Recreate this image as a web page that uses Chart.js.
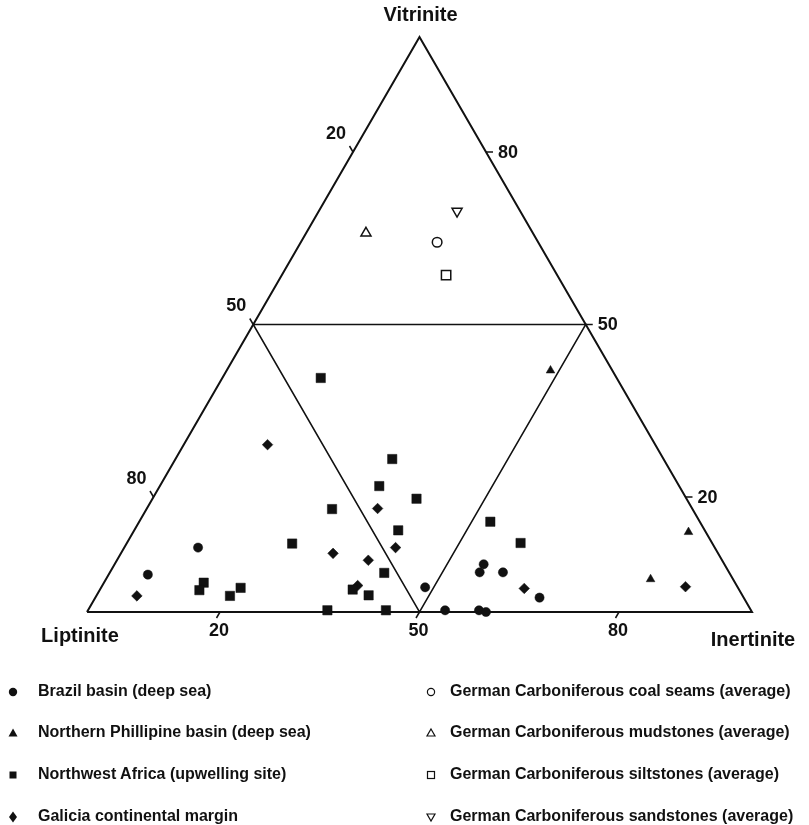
<!DOCTYPE html>
<html>
<head>
<meta charset="utf-8">
<script src="https://cdn.jsdelivr.net/npm/chart.js@4.4.1/dist/chart.umd.min.js"></script>
<style>
html,body{margin:0;padding:0;background:#fff;}
#wrap{position:relative;width:809px;height:825px;overflow:hidden;background:#fff;}
#c{position:absolute;left:0;top:0;}
.leg{position:absolute;height:20px;line-height:20px;font:bold 16px "Liberation Sans",Arial,Helvetica,sans-serif;color:#111;white-space:nowrap;}
.mk{position:absolute;}
</style>
</head>
<body>
<div id="wrap">
<canvas id="c" width="809" height="825"></canvas>
<div id="legend"></div>
</div>
<script>
// ---- Data (ternary compositions, %): Vitrinite, Inertinite, Liptinite ----
const brazilV = [11.2, 6.5, 4.3, 0.3, 8.3, 6.9, 6.9, 2.5, 0.3, 0.0];
const brazilI = [11.1, 5.9, 48.7, 53.7, 55.5, 55.6, 59.1, 66.8, 58.8, 60.0];
const brazilL = [77.7, 87.6, 47.0, 46.0, 36.2, 37.5, 34.0, 30.7, 40.9, 40.0];

const philV = [42.0, 13.9, 5.7];
const philI = [48.7, 83.5, 81.9];
const philL = [9.3, 2.6, 12.4];

const nwAfricaV = [5.1, 3.8, 4.2, 2.8, 11.9, 40.7, 17.9, 21.9, 26.6, 19.7, 14.2, 6.8, 3.9, 2.9, 0.3, 0.3, 15.7, 12.0];
const nwAfricaI = [15.0, 15.0, 21.0, 20.1, 24.9, 14.8, 27.9, 33.0, 32.6, 39.7, 39.7, 41.3, 38.0, 40.9, 36.0, 44.8, 52.8, 59.2];
const nwAfricaL = [79.9, 81.2, 74.8, 77.1, 63.2, 44.5, 54.2, 45.1, 40.8, 40.6, 46.1, 51.9, 58.1, 56.2, 63.7, 54.9, 31.5, 28.8];

const galiciaV = [29.1, 2.8, 18.0, 11.2, 10.2, 9.0, 4.6, 4.1, 4.4];
const galiciaI = [12.6, 6.1, 34.7, 40.8, 31.9, 37.8, 38.4, 63.7, 87.8];
const galiciaL = [58.3, 91.1, 47.3, 48.0, 57.9, 53.2, 57.0, 32.2, 7.8];

const coalV = [64.3], coalI = [20.5], coalL = [15.2];
const mudV = [65.9], mudI = [9.0], mudL = [25.1];
const siltV = [58.6], siltI = [24.7], siltL = [16.7];
const sandV = [69.7], sandI = [20.8], sandL = [9.5];

// frame of the diagram (ternary vertices) and the 50 % sub-triangle
const frameV = [0, 0, 100, 0];
const frameI = [0, 100, 0, 0];
const frameL = [100, 0, 0, 100];
const innerV = [50, 50, 0, 50];
const innerI = [0, 50, 50, 0];
const innerL = [50, 0, 50, 50];

const tickValues = [20, 50, 80];
const tickLabels = ['20', '50', '80'];
const axisNames = ['Vitrinite', 'Liptinite', 'Inertinite'];

const seriesNames = [
  'Brazil basin (deep sea)',
  'Northern Phillipine basin (deep sea)',
  'Northwest Africa (upwelling site)',
  'Galicia continental margin',
  'German Carboniferous coal seams (average)',
  'German Carboniferous mudstones (average)',
  'German Carboniferous siltstones (average)',
  'German Carboniferous sandstones (average)'
];

// ---- ternary -> cartesian ----
const H = Math.sqrt(3) / 2;
function toXY(V, I, L) {
  return V.map((v, k) => {
    const t = v + I[k] + L[k];
    const vv = 100 * v / t, ii = 100 * I[k] / t;
    return { x: ii + vv / 2, y: vv * H };
  });
}

const INK = '#111';
function pts(label, V, I, L, style, radius, filled, rotation) {
  return {
    label: label,
    data: toXY(V, I, L),
    pointStyle: style,
    pointRadius: radius,
    pointRotation: rotation || 0,
    pointBackgroundColor: filled ? INK : 'rgba(0,0,0,0)',
    pointBorderColor: INK,
    pointBorderWidth: filled ? 0.5 : 1.5,
    showLine: false,
    clip: false,
    order: 1
  };
}
function lines(V, I, L, w) {
  return {
    label: '',
    data: toXY(V, I, L),
    showLine: true,
    borderColor: INK,
    borderWidth: w,
    pointRadius: 0,
    fill: false,
    clip: false,
    order: 2
  };
}

const ternaryText = {
  id: 'ternaryText',
  afterDatasetsDraw(chart) {
    const { ctx } = chart;
    const xs = chart.scales.x, ys = chart.scales.y;
    const P = (V, I) => [xs.getPixelForValue(I + V / 2), ys.getPixelForValue(V * H)];
    ctx.save();
    ctx.strokeStyle = INK;
    ctx.fillStyle = INK;
    ctx.lineWidth = 1.5;
    ctx.font = 'bold 18px "Liberation Sans", Arial, Helvetica, sans-serif';
    ctx.textBaseline = 'middle';
    tickValues.forEach((t, k) => {
      // left edge: Liptinite value
      let [px, py] = P(100 - t, 0);
      ctx.beginPath(); ctx.moveTo(px, py); ctx.lineTo(px - 3.5, py - 6); ctx.stroke();
      ctx.textAlign = 'center';
      ctx.fillText(tickLabels[k], px - 17, py - 18);
      // right edge: Vitrinite value
      [px, py] = P(t, 100 - t);
      ctx.beginPath(); ctx.moveTo(px, py); ctx.lineTo(px + 7, py); ctx.stroke();
      ctx.textAlign = 'left';
      ctx.fillText(tickLabels[k], px + 12, py + 1);
      // bottom edge: Inertinite value
      [px, py] = P(0, t);
      ctx.beginPath(); ctx.moveTo(px, py); ctx.lineTo(px - 3.5, py + 6); ctx.stroke();
      ctx.textAlign = 'center';
      ctx.fillText(tickLabels[k], px - 1, py + 19);
    });
    ctx.font = 'bold 20px "Liberation Sans", Arial, Helvetica, sans-serif';
    ctx.textAlign = 'center';
    let [ax, ay] = P(100, 0);
    ctx.fillText(axisNames[0], ax + 1, ay - 22);
    [ax, ay] = P(0, 0);
    ctx.fillText(axisNames[1], ax - 7, ay + 24);
    [ax, ay] = P(0, 100);
    ctx.fillText(axisNames[2], ax + 1, ay + 28);
    ctx.restore();
  }
};

new Chart(document.getElementById('c'), {
  type: 'scatter',
  data: {
    datasets: [
      lines(frameV, frameI, frameL, 2),
      lines(innerV, innerI, innerL, 1.5),
      pts(seriesNames[0], brazilV, brazilI, brazilL, 'circle', 4.6, true),
      pts(seriesNames[1], philV, philI, philL, 'triangle', 5, true),
      pts(seriesNames[2], nwAfricaV, nwAfricaI, nwAfricaL, 'rect', 6.6, true),
      pts(seriesNames[3], galiciaV, galiciaI, galiciaL, 'rectRot', 5.3, true),
      pts(seriesNames[4], coalV, coalI, coalL, 'circle', 4.8, false),
      pts(seriesNames[5], mudV, mudI, mudL, 'triangle', 5.8, false),
      pts(seriesNames[6], siltV, siltI, siltL, 'rect', 6.6, false),
      pts(seriesNames[7], sandV, sandI, sandL, 'triangle', 5.8, false, 180)
    ]
  },
  options: {
    responsive: false,
    devicePixelRatio: 1,
    animation: false,
    events: [],
    layout: { padding: { left: 87, right: 57, top: 37, bottom: 213 } },
    scales: {
      x: { type: 'linear', min: 0, max: 100, display: false },
      y: { type: 'linear', min: 0, max: 100 * H, display: false }
    },
    plugins: { legend: { display: false }, tooltip: { enabled: false } }
  },
  plugins: [ternaryText]
});

// ---- HTML legend (two columns) ----
const legendRowsY = [692, 733, 775, 817];
const legendShapes = [
  '<circle cx="9" cy="10" r="4.2" fill="#111"/>',
  '<polygon points="9,5.5 13.5,13.5 4.5,13.5" fill="#111"/>',
  '<rect x="5.5" y="6.5" width="7" height="7" fill="#111"/>',
  '<polygon points="9,4.5 13,10 9,15.5 5,10" fill="#111"/>',
  '<circle cx="9" cy="10" r="3.6" fill="none" stroke="#111" stroke-width="1.2"/>',
  '<polygon points="9,6 13,13 5,13" fill="none" stroke="#111" stroke-width="1.2"/>',
  '<rect x="5.5" y="6.5" width="7" height="7" fill="none" stroke="#111" stroke-width="1.2"/>',
  '<polygon points="5,7 13,7 9,14" fill="none" stroke="#111" stroke-width="1.2"/>'
];
const legendEl = document.getElementById('legend');
seriesNames.forEach((name, k) => {
  const col = k < 4 ? 0 : 1;
  const row = k % 4;
  const markX = col === 0 ? 13 : 431;
  const textX = col === 0 ? 38 : 450;
  const top = legendRowsY[row] - 10;
  const m = document.createElement('div');
  m.className = 'mk';
  m.style.left = (markX - 9) + 'px';
  m.style.top = top + 'px';
  m.innerHTML = '<svg width="18" height="20" viewBox="0 0 18 20">' + legendShapes[k] + '</svg>';
  legendEl.appendChild(m);
  const t = document.createElement('div');
  t.className = 'leg';
  t.style.left = textX + 'px';
  t.style.top = top + 'px';
  t.textContent = name;
  legendEl.appendChild(t);
});
</script>
</body>
</html>
